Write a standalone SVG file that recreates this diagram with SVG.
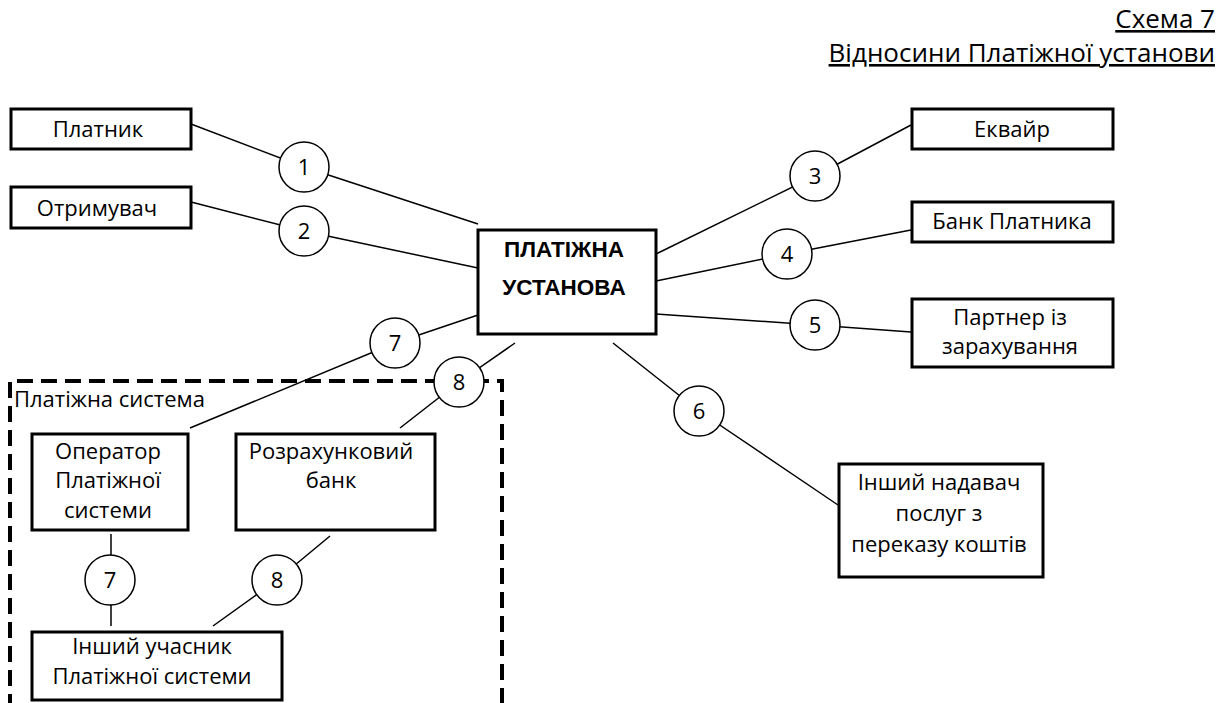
<svg xmlns="http://www.w3.org/2000/svg" width="1232" height="703" viewBox="0 0 1232 703">
<style>
  .box{fill:#fff;stroke:#000;stroke-width:3}
  .c{fill:#fff;stroke:#000;stroke-width:1.5}
  .ln{fill:none;stroke:#000;stroke-width:1.5}
  .t{font-family:"Open Sans",sans-serif;font-size:22px;fill:#000;text-anchor:middle}
  .n{font-family:"Open Sans",sans-serif;font-size:22px;fill:#000;text-anchor:middle}
  .b{font-family:"Liberation Sans",Arial,sans-serif;font-weight:bold;font-size:22.5px;fill:#000;text-anchor:middle}
  .title{font-family:"Open Sans",sans-serif;font-size:26px;fill:#000;text-anchor:end;text-decoration:underline}
</style>
<rect width="1232" height="703" fill="#fff"/>
<g id="title">
  <text class="title" x="1215" y="28">Схема 7</text>
  <text class="title" x="1215" y="62">Відносини Платіжної установи</text>
</g>
<g id="payment-system-frame">
  <path d="M10,710 V381 H502 V710" fill="none" stroke="#000" stroke-width="4" stroke-dasharray="16 8"/>
  <text x="14" y="407" style="font-family:'Open Sans',sans-serif;font-size:22px">Платіжна система</text>
</g>
<g id="connectors">
  <polyline class="ln" points="191,124 304,167 478,224"/>
  <polyline class="ln" points="191,202 304,231 478,268"/>
  <polyline class="ln" points="656,254 815,176 911,125"/>
  <polyline class="ln" points="656,281 787,254 911,230"/>
  <polyline class="ln" points="656,314 815,325 911,332"/>
  <polyline class="ln" points="613,343 699,411 838,505"/>
  <polyline class="ln" points="478,315 395,343 190,428"/>
  <polyline class="ln" points="515,343 459,382 400,428"/>
  <polyline class="ln" points="111,534 111,626"/>
  <polyline class="ln" points="330,536 277,580 213,626"/>
</g>
<g id="c1"><circle class="c" cx="304" cy="167" r="25"/><text class="n" x="304" y="175">1</text></g>
<g id="c2"><circle class="c" cx="304" cy="231" r="25"/><text class="n" x="304" y="239">2</text></g>
<g id="c3"><circle class="c" cx="815" cy="176" r="25"/><text class="n" x="815" y="184">3</text></g>
<g id="c4"><circle class="c" cx="787" cy="254" r="25"/><text class="n" x="787" y="262">4</text></g>
<g id="c5"><circle class="c" cx="815" cy="325" r="25"/><text class="n" x="815" y="333">5</text></g>
<g id="c6"><circle class="c" cx="699" cy="411" r="25"/><text class="n" x="699" y="419">6</text></g>
<g id="c7a"><circle class="c" cx="395" cy="343" r="25"/><text class="n" x="395" y="351">7</text></g>
<g id="c8a"><circle class="c" cx="459" cy="382" r="25"/><text class="n" x="459" y="390">8</text></g>
<g id="c7b"><circle class="c" cx="110" cy="580" r="25"/><text class="n" x="110" y="588">7</text></g>
<g id="c8b"><circle class="c" cx="277" cy="580" r="25"/><text class="n" x="277" y="588">8</text></g>
<g id="platnyk"><rect class="box" x="11" y="109" width="180" height="40"/><text class="t" x="98" y="137">Платник</text></g>
<g id="otrymuvach"><rect class="box" x="11" y="187" width="180" height="41"/><text class="t" x="97" y="216">Отримувач</text></g>
<g id="main"><rect class="box" x="478" y="230" width="178" height="104"/><text class="b" x="564" y="257">ПЛАТІЖНА</text><text class="b" x="564" y="295">УСТАНОВА</text></g>
<g id="ekvair"><rect class="box" x="912" y="109" width="201" height="40"/><text class="t" x="1012" y="137">Еквайр</text></g>
<g id="bank-platnyka"><rect class="box" x="912" y="202" width="201" height="40"/><text class="t" x="1012" y="229">Банк Платника</text></g>
<g id="partner"><rect class="box" x="912" y="299" width="201" height="68"/><text class="t" x="1010" y="325">Партнер із</text><text class="t" x="1010" y="354">зарахування</text></g>
<g id="inshyi-nadavach"><rect class="box" x="839" y="464" width="204" height="113"/><text class="t" x="939" y="490">Інший надавач</text><text class="t" x="939" y="521">послуг з</text><text class="t" x="939" y="552">переказу коштів</text></g>
<g id="operator"><rect class="box" x="32" y="434" width="156" height="96"/><text class="t" x="108" y="459">Оператор</text><text class="t" x="108" y="488">Платіжної</text><text class="t" x="108" y="518">системи</text></g>
<g id="rozrakhunkovyi"><rect class="box" x="236" y="434" width="199" height="96"/><text class="t" x="331" y="459">Розрахунковий</text><text class="t" x="331" y="488">банк</text></g>
<g id="inshyi-uchasnyk"><rect class="box" x="32" y="632" width="250" height="68"/><text class="t" x="152" y="654">Інший учасник</text><text class="t" x="152" y="684">Платіжної системи</text></g>
</svg>
